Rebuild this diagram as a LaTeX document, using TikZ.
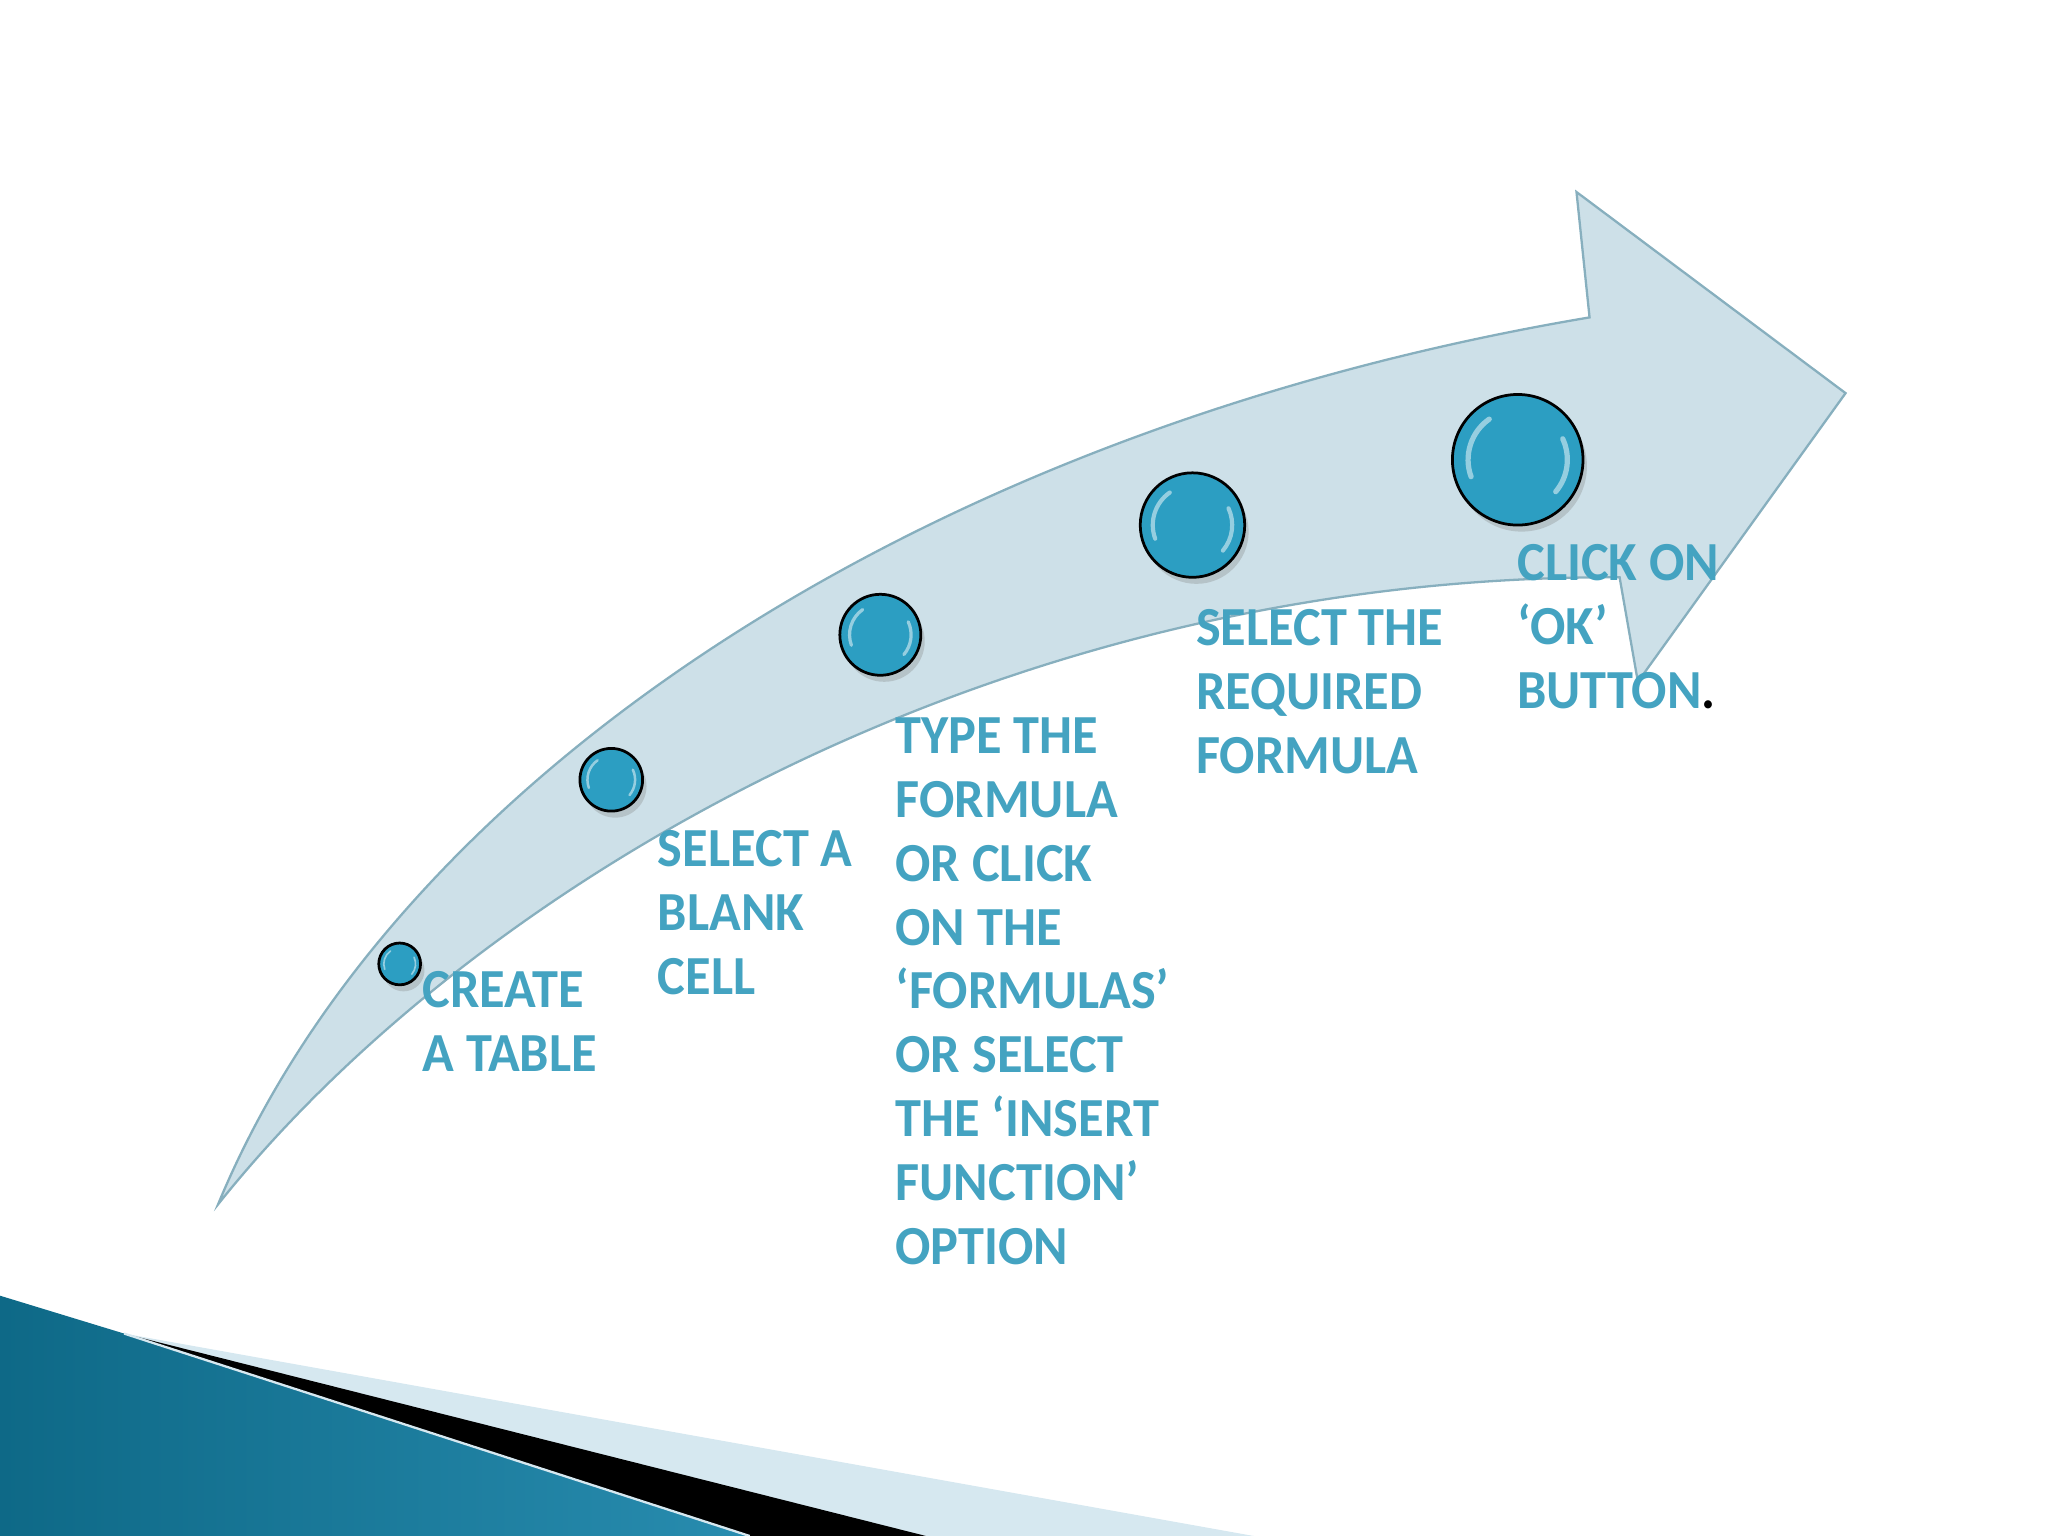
\documentclass[tikz,border=0pt]{standalone}
\usepackage{fontspec}
\setmainfont{Carlito}
\newfontfamily\stepfont[FakeStretch=0.95]{Carlito}
\usetikzlibrary{positioning}
\usetikzlibrary{shadows}
\definecolor{bandfill}{RGB}{205,224,232}
\definecolor{bandline}{RGB}{135,175,190}
\definecolor{dotblue}{RGB}{44,158,194}
\definecolor{steptext}{RGB}{68,163,193}
\definecolor{swooshdark}{RGB}{14,105,135}
\definecolor{swooshmid}{RGB}{84,182,214}
\definecolor{swooshright}{RGB}{40,140,175}
\definecolor{stripe}{RGB}{214,232,240}
\tikzset{dot/.style={circle,draw=black,line width=0.6pt,fill=dotblue,inner sep=0pt,drop shadow={opacity=0.3,shadow xshift=0.3mm,shadow yshift=-0.5mm}},steplabel/.style={anchor=north west,inner sep=0pt,align=left,text=steptext,font=\stepfont\fontsize{12}{13.9}\selectfont\bfseries}}

\begin{document}
\begin{tikzpicture}[x=0.1mm,y=-0.1mm]
\useasboundingbox (0,0) rectangle (1568,1176);

\begin{scope}
\clip (0,0) rectangle (1568,1176);
\fill[stripe] (95,1021) -- (960,1176) -- (0,1176) -- cycle;
\fill[black] (95,1021) -- (709,1176) -- (0,1176) -- cycle;
\shade[left color=swooshdark,middle color=swooshmid,right color=swooshright] (0,992) -- (95,1021) -- (574,1176) -- (0,1176) -- cycle;
\draw[stripe,line width=0.5pt] (95,1021) -- (574,1176);
\end{scope}

\draw[bandline,fill=bandfill,line width=0.5pt] (167,922) .. controls (300,600) and (700,330) .. (1217,243)
 -- (1207,147) -- (1413,301) -- (1254,522) -- (1240,442)
 .. controls (760,440) and (360,680) .. (167,922) -- cycle;

\foreach \n/\x/\y/\d in {1/306/738/3.2, 2/468/597/4.8, 3/674/486/6.2, 4/913/402/8.0, 5/1162/352/10.0} {
\node (d\n) at (\x,\y) [dot,minimum size=\d mm] {};
\draw[white,opacity=0.5,line width=0.04*\d mm,line cap=round] (d\n.center) ++(125:0.38*\d mm) arc[start angle=125,end angle=200,radius=0.38*\d mm];
\draw[white,opacity=0.5,line width=0.04*\d mm,line cap=round] (d\n.center) ++(-40:0.38*\d mm) arc[start angle=-40,end angle=25,radius=0.38*\d mm];
}

\node (t1) at (323,743) [steplabel] {CREATE\\A TABLE};
\node (t2) at (503,635) [steplabel] {SELECT A\\BLANK\\CELL};
\node (t3) at (685,549) [steplabel] {TYPE THE\\FORMULA\\OR CLICK\\ON THE\\‘FORMULAS’\\OR SELECT\\THE ‘INSERT\\FUNCTION’\\OPTION};
\node (t4) at (915,466) [steplabel] {SELECT THE\\REQUIRED\\FORMULA};
\node (t5) at (1161,416) [steplabel] {CLICK ON\\‘OK’\\BUTTON{\color{black}.}};

\end{tikzpicture}
\end{document}
